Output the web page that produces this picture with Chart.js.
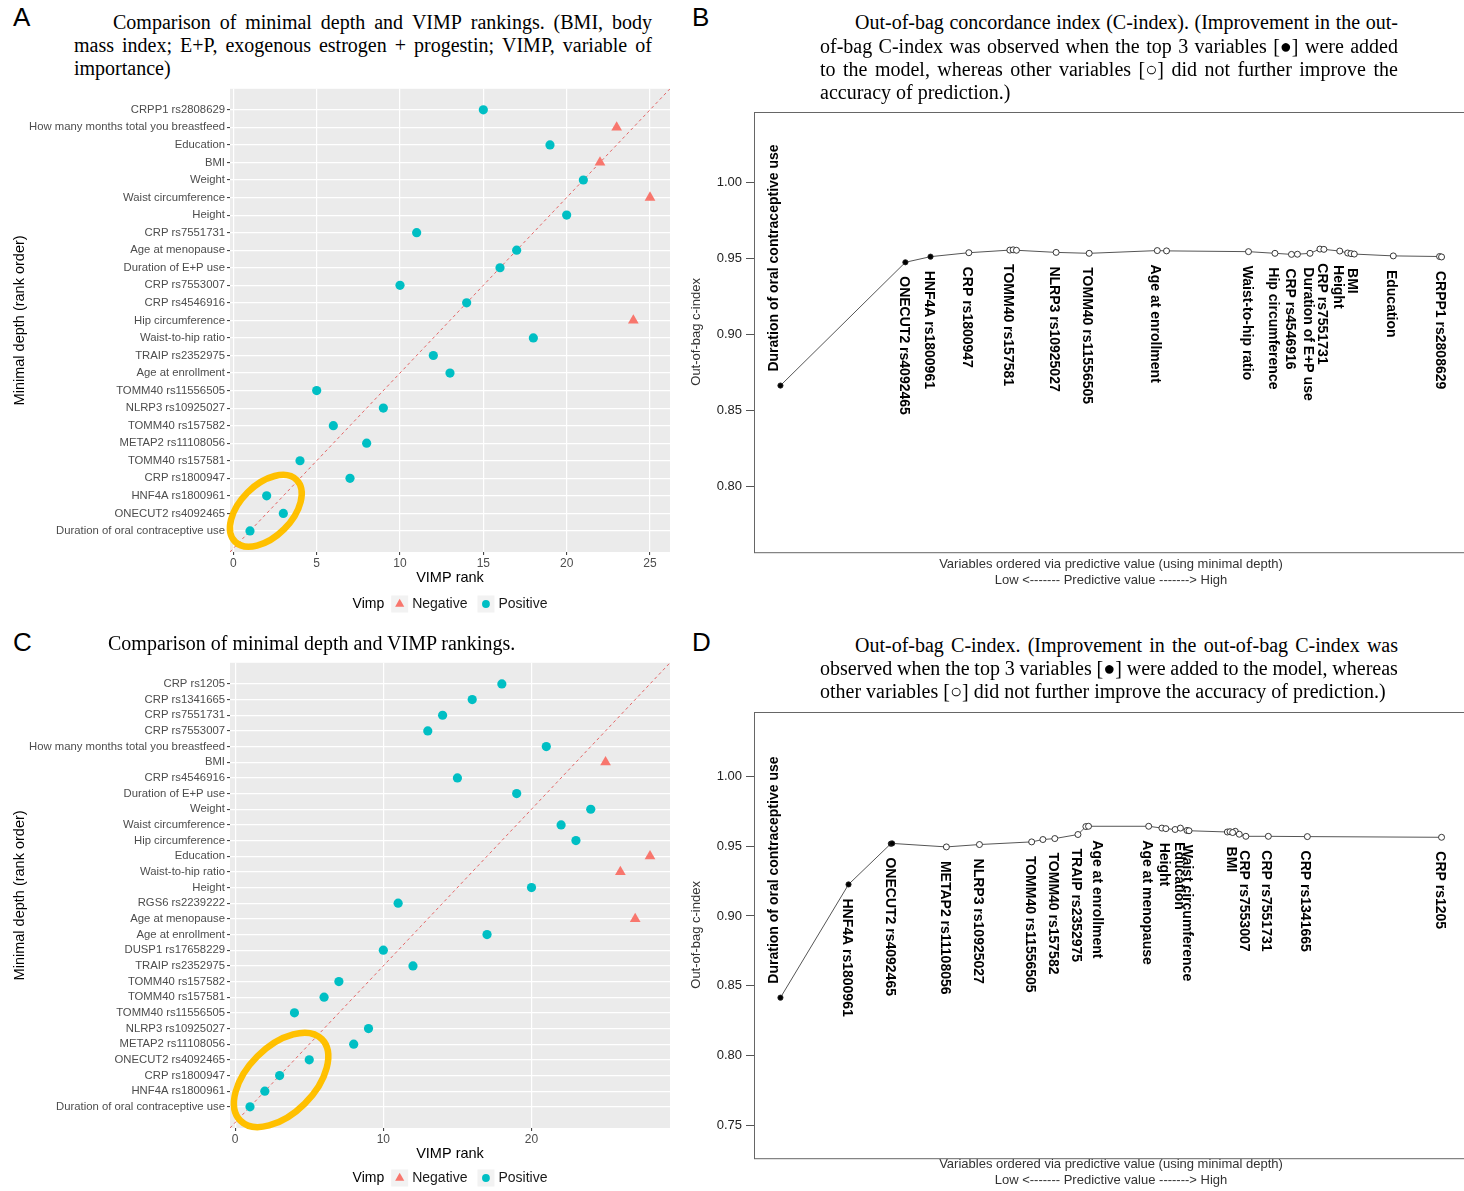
<!DOCTYPE html>
<html lang="en">
<head>
<meta charset="UTF-8">
<title>Minimal depth vs VIMP rankings and out-of-bag C-index</title>
<script src="https://cdn.jsdelivr.net/npm/chart.js@4.4.1/dist/chart.umd.min.js"></script>
<style>
  html, body { margin: 0; padding: 0; background: #fff; overflow: hidden; }
  #page { position: relative; width: 1464px; height: 1191px; overflow: hidden; }
  .box { position: absolute; }
  .letter { position: absolute; font-family: "Liberation Sans", Arial, sans-serif; font-size: 26px; line-height: 26px; color: #000; }
  .tline { position: absolute; height: 24px; line-height: 24px; font-family: "Liberation Serif", "Times New Roman", serif; font-size: 20px; color: #000; white-space: nowrap; }
  .tline.just { display: flex; justify-content: space-between; }
</style>
</head>
<body>
<div id="page">
  <div class="letter" style="left:13px;top:4px">A</div>
  <div class="letter" style="left:692px;top:4px">B</div>
  <div class="letter" style="left:13px;top:629px">C</div>
  <div class="letter" style="left:692px;top:629px">D</div>

  <div class="box" style="left:0;top:80px;width:680px;height:545px"><canvas id="chartA"></canvas></div>
  <div class="box" style="left:680px;top:100px;width:800px;height:500px"><canvas id="chartB"></canvas></div>
  <div class="box" style="left:0;top:654px;width:680px;height:537px"><canvas id="chartC"></canvas></div>
  <div class="box" style="left:680px;top:700px;width:800px;height:491px"><canvas id="chartD"></canvas></div>
</div>

<script>
// ---- data ----
// panels A / C: variables listed from the bottom of the y axis (minimal depth rank 1) upwards
const aVars = ['Duration of oral contraceptive use', 'ONECUT2 rs4092465', 'HNF4A rs1800961', 'CRP rs1800947',
  'TOMM40 rs157581', 'METAP2 rs11108056', 'TOMM40 rs157582', 'NLRP3 rs10925027', 'TOMM40 rs11556505',
  'Age at enrollment', 'TRAIP rs2352975', 'Waist-to-hip ratio', 'Hip circumference', 'CRP rs4546916',
  'CRP rs7553007', 'Duration of E+P use', 'Age at menopause', 'CRP rs7551731', 'Height',
  'Waist circumference', 'Weight', 'BMI', 'Education', 'How many months total you breastfeed', 'CRPP1 rs2808629'];
const aVimpRank = [1, 3, 2, 7, 4, 8, 6, 9, 5, 13, 12, 18, 24, 14, 10, 16, 17, 11, 20, 25, 21, 22, 19, 23, 15];
const aVimpSign = ['Positive', 'Positive', 'Positive', 'Positive', 'Positive', 'Positive', 'Positive', 'Positive',
  'Positive', 'Positive', 'Positive', 'Positive', 'Negative', 'Positive', 'Positive', 'Positive', 'Positive',
  'Positive', 'Positive', 'Negative', 'Positive', 'Negative', 'Positive', 'Negative', 'Positive'];

const cVars = ['Duration of oral contraceptive use', 'HNF4A rs1800961', 'CRP rs1800947', 'ONECUT2 rs4092465',
  'METAP2 rs11108056', 'NLRP3 rs10925027', 'TOMM40 rs11556505', 'TOMM40 rs157581', 'TOMM40 rs157582',
  'TRAIP rs2352975', 'DUSP1 rs17658229', 'Age at enrollment', 'Age at menopause', 'RGS6 rs2239222', 'Height',
  'Waist-to-hip ratio', 'Education', 'Hip circumference', 'Waist circumference', 'Weight', 'Duration of E+P use',
  'CRP rs4546916', 'BMI', 'How many months total you breastfeed', 'CRP rs7553007', 'CRP rs7551731',
  'CRP rs1341665', 'CRP rs1205'];
const cVimpRank = [1, 2, 3, 5, 8, 9, 4, 6, 7, 12, 10, 17, 27, 11, 20, 26, 28, 23, 22, 24, 19, 15, 25, 21, 13, 14, 16, 18];
const cVimpSign = ['Positive', 'Positive', 'Positive', 'Positive', 'Positive', 'Positive', 'Positive', 'Positive',
  'Positive', 'Positive', 'Positive', 'Positive', 'Negative', 'Positive', 'Positive', 'Negative', 'Negative',
  'Positive', 'Positive', 'Positive', 'Positive', 'Positive', 'Negative', 'Positive', 'Positive', 'Positive',
  'Positive', 'Positive'];

// panels B / D: same variable order as A / C, x = position along the minimal depth ordering (0-100)
const bDepth = [0, 18.9, 22.7, 28.5, 34.7, 35.2, 35.7, 41.7, 46.7, 57.0, 58.4, 70.8, 74.8, 77.3, 78.2, 80.1,
  81.6, 82.2, 84.6, 85.8, 86.3, 86.8, 92.7, 99.7, 100];
const bCindex = [0.8665, 0.9476, 0.9513, 0.9539, 0.9556, 0.9558, 0.9555, 0.9541, 0.9535, 0.9553, 0.9551,
  0.9546, 0.9535, 0.9528, 0.9529, 0.9535, 0.9563, 0.9561, 0.9550, 0.9537, 0.9533, 0.9530, 0.9518, 0.9514, 0.9511];
const bLabelled = ['Duration of oral contraceptive use', 'ONECUT2 rs4092465', 'HNF4A rs1800961', 'CRP rs1800947',
  'TOMM40 rs157581', 'NLRP3 rs10925027', 'TOMM40 rs11556505', 'Age at enrollment', 'Waist-to-hip ratio',
  'Hip circumference', 'CRP rs4546916', 'Duration of E+P use', 'CRP rs7551731', 'Height', 'BMI', 'Education',
  'CRPP1 rs2808629'];
const bFilled = 3;
const bYLim = [0.757, 1.0466];
const bYTicks = [0.80, 0.85, 0.90, 0.95, 1.00];

const dDepth = [0, 10.3, 16.7, 16.9, 25.1, 30.1, 38.0, 39.7, 41.5, 45.0, 46.2, 46.6, 55.7, 57.7, 58.3, 59.7,
  60.5, 61.5, 61.8, 67.6, 68.0, 68.8, 68.4, 69.4, 70.4, 73.8, 79.7, 100];
const dCindex = [0.8414, 0.9226, 0.9518, 0.9520, 0.9495, 0.9512, 0.9531, 0.9548, 0.9555, 0.9584, 0.9641,
  0.9643, 0.9643, 0.9630, 0.9626, 0.9620, 0.9630, 0.9613, 0.9611, 0.9602, 0.9604, 0.9607, 0.9598, 0.9586,
  0.9571, 0.9571, 0.9569, 0.9564];
const dLabelled = ['Duration of oral contraceptive use', 'HNF4A rs1800961', 'ONECUT2 rs4092465', 'METAP2 rs11108056',
  'NLRP3 rs10925027', 'TOMM40 rs11556505', 'TOMM40 rs157582', 'TRAIP rs2352975', 'Age at enrollment',
  'Age at menopause', 'Height', 'Education', 'Waist circumference', 'BMI', 'CRP rs7553007', 'CRP rs7551731',
  'CRP rs1341665', 'CRP rs1205'];
const dFilled = 4; // CRP rs1800947 sits under ONECUT2
const dYLim = [0.7264, 1.0464];
const dYTicks = [0.75, 0.80, 0.85, 0.90, 0.95, 1.00];
// base R moved this name clear of its neighbour (px)
const dLabelShift = { 'Age at enrollment': 10 };

const titleLines = [
  { x: 113, y: 22, w: 539, text: 'Comparison of minimal depth and VIMP rankings. (BMI, body' },
  { x: 74, y: 45, w: 578, text: 'mass index; E+P, exogenous estrogen + progestin; VIMP, variable of' },
  { x: 74, y: 68, text: 'importance)' },
  { x: 855, y: 22, w: 543, text: 'Out-of-bag concordance index (C-index). (Improvement in the out-' },
  { x: 820, y: 46, w: 578, text: 'of-bag C-index was observed when the top 3 variables [\u25CF] were added' },
  { x: 820, y: 69, w: 578, text: 'to the model, whereas other variables [\u25CB] did not further improve the' },
  { x: 820, y: 92, text: 'accuracy of prediction.)' },
  { x: 108, y: 643, text: 'Comparison of minimal depth and VIMP rankings.' },
  { x: 855, y: 645, w: 543, text: 'Out-of-bag C-index. (Improvement in the out-of-bag C-index was' },
  { x: 820, y: 668, w: 578, text: 'observed when the top 3 variables [\u25CF] were added to the model, whereas' },
  { x: 820, y: 691, text: 'other variables [\u25CB] did not further improve the accuracy of prediction.)' }
];

// ---- titles (justified lines like the source figure) ----
const page = document.getElementById('page');
titleLines.forEach(l => {
  const div = document.createElement('div');
  div.className = 'tline' + (l.w ? ' just' : '');
  div.style.left = l.x + 'px';
  div.style.top = (l.y - 12) + 'px';
  if (l.w) {
    div.style.width = l.w + 'px';
    l.text.split(' ').forEach(word => {
      const s = document.createElement('span');
      s.textContent = word;
      div.appendChild(s);
    });
  } else {
    div.textContent = l.text;
  }
  page.appendChild(div);
});

// ---- chart helpers ----
const SANS = '"Liberation Sans", Arial, Helvetica, sans-serif';
Chart.defaults.font.family = SANS;
Chart.defaults.animation = false;

const NEG_COLOR = '#F8766D';
const POS_COLOR = '#00BFC4';

// ggplot grey panel
const ggPanel = {
  id: 'ggPanel',
  beforeDraw(chart, args, o) {
    if (!o.color) return;
    const { ctx, chartArea: a } = chart;
    ctx.save();
    ctx.fillStyle = o.color;
    ctx.fillRect(a.left, a.top, a.right - a.left, a.bottom - a.top);
    ctx.restore();
  }
};

// "Vimp  ▲ Negative  ● Positive" legend under the x title
const ggLegend = {
  id: 'ggLegend',
  afterDraw(chart, args, o) {
    if (!o.title) return;
    const { ctx, chartArea: a } = chart;
    const items = chart.data.datasets.filter(d => d.inLegend);
    const key = 17, gapTitle = 7, gapKey = 4, gapItem = 10;
    ctx.save();
    ctx.font = '14px ' + SANS;
    ctx.textBaseline = 'middle';
    let w = ctx.measureText(o.title).width + gapTitle;
    items.forEach((d, i) => {
      w += key + gapKey + ctx.measureText(d.label).width + (i < items.length - 1 ? gapItem : 0);
    });
    let x = (a.left + a.right) / 2 - w / 2;
    const y = a.bottom + o.offset;
    ctx.fillStyle = '#000';
    ctx.fillText(o.title, x, y);
    x += ctx.measureText(o.title).width + gapTitle;
    items.forEach(d => {
      ctx.fillStyle = '#F2F2F2';
      ctx.fillRect(x, y - key / 2, key, key);
      ctx.fillStyle = d.backgroundColor;
      Chart.helpers.drawPoint(ctx, { pointStyle: d.pointStyle, radius: d.pointRadius * 0.85, rotation: 0, borderWidth: 0 }, x + key / 2, y);
      x += key + gapKey;
      ctx.fillStyle = '#1a1a1a';
      ctx.fillText(d.label, x, y);
      x += ctx.measureText(d.label).width + gapItem;
    });
    ctx.restore();
  }
};

// hand-drawn yellow loop around the top variables
const highlightLoop = {
  id: 'highlightLoop',
  afterDatasetsDraw(chart, args, o) {
    if (!o.center) return;
    const { ctx, scales: { x, y } } = chart;
    const cx = x.getPixelForValue(o.center[0]);
    const cy = y.getPixelForValue(o.center[1]);
    const ux = Math.abs(x.getPixelForValue(1) - x.getPixelForValue(0)) * Math.SQRT2;
    ctx.save();
    ctx.strokeStyle = o.color;
    ctx.lineWidth = o.width;
    ctx.beginPath();
    ctx.ellipse(cx, cy, o.major * ux, o.minor * ux, -Math.PI / 4, 0, 2 * Math.PI);
    ctx.stroke();
    ctx.restore();
  }
};

// base-graphics box round the plot
const plotBox = {
  id: 'plotBox',
  afterDraw(chart, args, o) {
    if (!o.color) return;
    const { ctx, chartArea: a } = chart;
    ctx.save();
    ctx.strokeStyle = o.color;
    ctx.lineWidth = 1;
    ctx.strokeRect(Math.round(a.left) + 0.5, Math.round(a.top) + 0.5, a.right - a.left, a.bottom - a.top);
    ctx.restore();
  }
};

// vertical variable names under (or above) each point
const pointNames = {
  id: 'pointNames',
  afterDatasetsDraw(chart, args, o) {
    if (!o.shown) return;
    const { ctx } = chart;
    const ds = chart.data.datasets[0];
    const meta = chart.getDatasetMeta(0);
    const shift = o.shift || {};
    ctx.save();
    ctx.font = 'bold 14px ' + SANS;
    ctx.fillStyle = '#000';
    ctx.textAlign = 'left';
    ctx.textBaseline = 'middle';
    meta.data.forEach((pt, i) => {
      const name = ds.names[i];
      if (!o.shown.includes(name)) return;
      const dx = shift[name] || 0;
      ctx.save();
      if (i === 0) {
        ctx.translate(pt.x - 6, pt.y - o.gap);
        ctx.rotate(-Math.PI / 2);
      } else {
        ctx.translate(pt.x - 2 + dx, pt.y + o.gap);
        ctx.rotate(Math.PI / 2);
      }
      ctx.fillText(name, 0, 0);
      ctx.restore();
    });
    ctx.restore();
  }
};

// ggplot default expansion (5 %) for ranks 1..n
function ggRange(n) {
  const pad = 0.05 * (n - 1);
  return [1 - pad, n + pad];
}

function vimpChart(id, vars, ranks, signs, xTicks, loop, padTop, legendOffset, xHeight, titlePad) {
  const [lo, hi] = ggRange(vars.length);
  const pts = sign => vars.map((v, i) => ({ x: ranks[i], y: i + 1, s: signs[i] })).filter(p => p.s === sign);
  return new Chart(document.getElementById(id), {
    type: 'scatter',
    data: {
      datasets: [
        { label: 'Negative', inLegend: true, data: pts('Negative'), pointStyle: 'triangle', pointRadius: 6.2,
          backgroundColor: NEG_COLOR, borderWidth: 0 },
        { label: 'Positive', inLegend: true, data: pts('Positive'), pointStyle: 'circle', pointRadius: 4.6,
          backgroundColor: POS_COLOR, borderWidth: 0 },
        { label: 'identity', data: [{ x: lo, y: lo }, { x: hi, y: hi }], showLine: true, pointRadius: 0,
          borderColor: 'rgba(226, 86, 86, 0.9)', borderWidth: 1, borderDash: [3, 3] }
      ]
    },
    options: {
      responsive: true,
      maintainAspectRatio: false,
      events: [],
      layout: { padding: { top: padTop, right: 10, left: 0, bottom: 0 } },
      scales: {
        x: {
          type: 'linear', min: lo, max: hi,
          afterBuildTicks: s => { s.ticks = xTicks.map(v => ({ value: v })); },
          afterFit: s => { s.height = xHeight; },
          ticks: { color: '#4D4D4D', font: { size: 12 }, padding: 1, maxRotation: 0 },
          grid: { color: '#FFFFFF', lineWidth: 1.2, tickLength: 3, tickColor: '#333', tickWidth: 1 },
          border: { display: false },
          title: { display: true, text: 'VIMP rank', color: '#000', font: { size: 14.5 }, padding: { top: 0, bottom: titlePad } }
        },
        y: {
          type: 'linear', min: lo, max: hi,
          afterBuildTicks: s => { s.ticks = vars.map((v, i) => ({ value: i + 1 })); },
          afterFit: s => { s.width = 230; },
          ticks: { color: '#4D4D4D', font: { size: 11.3 }, padding: 2, autoSkip: false, callback: v => vars[v - 1] },
          grid: { color: '#FFFFFF', lineWidth: 1.2, tickLength: 3, tickColor: '#333', tickWidth: 1 },
          border: { display: false },
          title: { display: true, text: 'Minimal depth (rank order)', color: '#000', font: { size: 14.5 }, padding: { top: 11, bottom: 0 } }
        }
      },
      plugins: {
        legend: { display: false },
        tooltip: { enabled: false },
        ggPanel: { color: '#EBEBEB' },
        ggLegend: { title: 'Vimp', offset: legendOffset },
        highlightLoop: loop
      }
    },
    plugins: [ggPanel, ggLegend, highlightLoop]
  });
}

function cindexChart(id, vars, depth, cidx, filled, shown, shift, yLim, yTicks, xHeight, titlePad) {
  const dmin = Math.min(...depth), dmax = Math.max(...depth);
  const ext = 0.04 * (dmax - dmin); // base R axis extension
  return new Chart(document.getElementById(id), {
    type: 'scatter',
    data: {
      datasets: [{
        label: 'C-index',
        names: vars,
        data: vars.map((v, i) => ({ x: depth[i], y: cidx[i] })),
        showLine: true,
        borderColor: '#555',
        borderWidth: 1,
        pointRadius: vars.map((v, i) => i < filled ? 2.6 : 3),
        pointBackgroundColor: vars.map((v, i) => i < filled ? '#000' : '#fff'),
        pointBorderColor: '#222',
        pointBorderWidth: 0.9
      }]
    },
    options: {
      responsive: true,
      maintainAspectRatio: false,
      events: [],
      layout: { padding: { top: 10, right: 12, left: 0, bottom: 0 } },
      scales: {
        x: {
          type: 'linear', min: dmin - ext, max: dmax + ext,
          afterFit: s => { s.height = xHeight; },
          ticks: { display: false },
          grid: { display: false },
          border: { display: false },
          title: {
            display: true,
            text: ['Variables ordered via predictive value (using minimal depth)', 'Low <------- Predictive value -------> High'],
            color: '#333', font: { size: 13, lineHeight: 1.3 }, padding: { top: 0, bottom: titlePad }
          }
        },
        y: {
          type: 'linear', min: yLim[0], max: yLim[1],
          afterBuildTicks: s => { s.ticks = yTicks.map(v => ({ value: v })); },
          afterFit: s => { s.width = 74; },
          ticks: { color: '#222', font: { size: 13 }, padding: 4, callback: v => v.toFixed(2) },
          grid: { drawOnChartArea: false, tickLength: 8, tickColor: '#555', color: '#555' },
          border: { display: false },
          title: { display: true, text: 'Out-of-bag c-index', color: '#333', font: { size: 13 }, padding: { top: 9, bottom: 0 } }
        }
      },
      plugins: {
        legend: { display: false },
        tooltip: { enabled: false },
        plotBox: { color: '#666' },
        pointNames: { shown: shown, gap: 14, shift: shift }
      }
    },
    plugins: [plotBox, pointNames]
  });
}

vimpChart('chartA', aVars, aVimpRank, aVimpSign, [0, 5, 10, 15, 20, 25],
  { center: [1.95, 2.15], major: 1.85, minor: 1.1, color: '#FFC000', width: 6.5 }, 6, 52, 73, 38.3);
vimpChart('chartC', cVars, cVimpRank, cVimpSign, [0, 10, 20],
  { center: [3.1, 2.72], major: 2.75, minor: 1.6, color: '#FFC000', width: 6.5 }, 7, 50, 63, 28.3);
cindexChart('chartB', aVars, bDepth, bCindex, bFilled, bLabelled, {}, bYLim, bYTicks, 48, 10.65);
cindexChart('chartD', cVars, dDepth, dCindex, dFilled, dLabelled, dLabelShift, dYLim, dYTicks, 33, 1.65);
</script>
</body>
</html>
